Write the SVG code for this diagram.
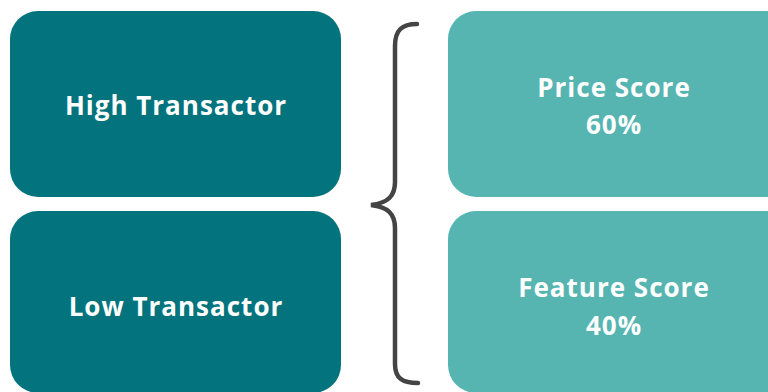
<svg xmlns="http://www.w3.org/2000/svg" width="768" height="392" viewBox="0 0 768 392">
<style>
.dark{fill:#03747d}
.light{fill:#57b5b1}
.t{font-family:"Open Sans",Lato,sans-serif;font-weight:bold;font-size:26px;letter-spacing:1px;fill:#ffffff;text-anchor:middle}
.brace{fill:none;stroke:#444444;stroke-width:4.5;stroke-linecap:round}
</style>
<rect width="768" height="392" fill="#ffffff"/>
<g id="high-transactor">
<rect class="dark" x="10" y="11" width="331" height="186" rx="28"/>
<text class="t" x="176" y="115">High Transactor</text>
</g>
<g id="low-transactor">
<rect class="dark" x="10" y="211" width="331" height="182" rx="28"/>
<text class="t" x="176" y="316">Low Transactor</text>
</g>
<g id="price-score">
<rect class="light" x="448" y="11" width="350" height="186" rx="28"/>
<text class="t" x="614" y="97">Price Score</text>
<text class="t" x="614" y="134">60%</text>
</g>
<g id="feature-score">
<rect class="light" x="448" y="211" width="350" height="182" rx="28"/>
<text class="t" x="614" y="297">Feature Score</text>
<text class="t" x="614" y="335">40%</text>
</g>
<g id="connectors">
<path class="brace" d="M417,24 C402,24 395,30 395,46 L395,182 C395,196 388,203 371,205 C388,207 395,214 395,228 L395,364 C395,378 402,383 418,383"/>
</g>
</svg>
